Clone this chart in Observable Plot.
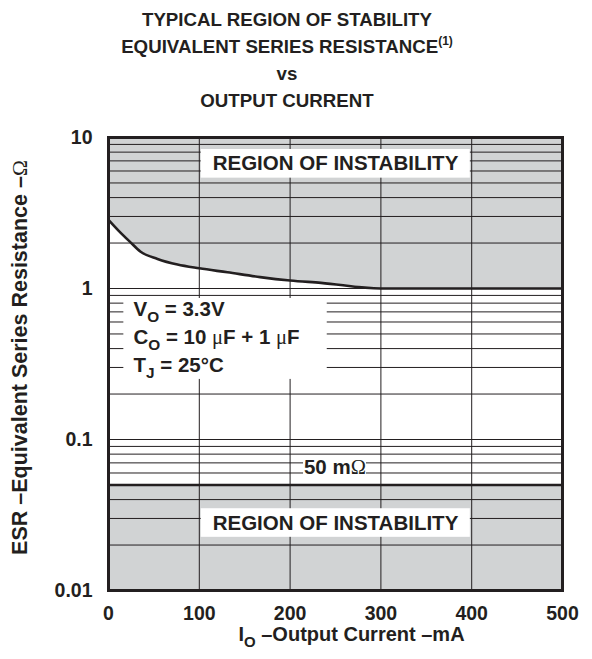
<!DOCTYPE html>
<html><head><meta charset="utf-8">
<script src="https://cdn.jsdelivr.net/npm/d3@7"></script>
<script src="https://cdn.jsdelivr.net/npm/@observablehq/plot@0.6"></script>
<style>
body{margin:0;background:#fff;font-family:"Liberation Sans",Arial,sans-serif;color:#231f20;}
#title{width:574px;height:120px;box-sizing:border-box;padding-top:6px;text-align:center;font-weight:bold;font-size:18.7px;line-height:27px;}
#title sup{font-size:12px;line-height:0;vertical-align:0;position:relative;top:-8px;}
#chart svg{display:block;}
</style></head><body>
<div id="title">TYPICAL REGION OF STABILITY<br>EQUIVALENT SERIES RESISTANCE<sup>(1)</sup><br>vs<br>OUTPUT CURRENT</div>
<div id="chart"></div>
<script>
// Upper stability boundary (minimum ESR, Ω) vs output current (mA)
const currentMa = [0, 11, 24, 35, 54, 76, 100, 131, 167, 200, 234, 300, 400, 500];
const esrUpperOhm = [2.85, 2.42, 2.03, 1.76, 1.57, 1.44, 1.36, 1.28, 1.19, 1.13, 1.09, 1.0, 1.0, 1.0];
// Lower stability boundary
const lowerRangeMa = [0, 500];
const esrLowerOhm = [0.05];
const esrFloorOhm = 0.01;
const esrCeilOhm = 10;
// Axes
const xTicks = [0, 100, 200, 300, 400, 500];
const xGrid = [100, 200, 300, 400];
const yTicks = [0.01, 0.1, 1, 10];
const yTickLabels = ["0.01", "0.1", "1", "10"];
const yGrid = [0.02, 0.03, 0.04, 0.05, 0.06, 0.07, 0.08, 0.09, 0.1,
               0.2, 0.3, 0.4, 0.5, 0.6, 0.7, 0.8, 0.9, 1,
               2, 3, 4, 5, 6, 7, 8, 9];
// Texts
const regionLabel = ["REGION OF INSTABILITY"];
const conditionLines = ["V_O = 3.3V", "C_O = 10 μF + 1 μF", "T_J = 25°C"];
const conditionY = [0.726, 0.474, 0.309];
const lowerLabel = ["50 mΩ"];
const xLabel = ["I_O –Output Current –mA"];
const yLabel = ["ESR –Equivalent Series Resistance –Ω"];

const ink = "#231f20";
const shade = "#d1d3d4";
const curve = currentMa.map((x, i) => ({x, y: esrUpperOhm[i]}));

const chart = Plot.plot({
  width: 592, height: 539,
  marginTop: 17, marginBottom: 69, marginLeft: 108, marginRight: 30,
  style: {fontFamily: "Liberation Sans, Arial, sans-serif", fontWeight: "bold", fontSize: "19.5px", color: ink, background: "white", overflow: "visible"},
  x: {domain: [0, 500], ticks: xTicks, tickSize: 0, tickPadding: 16, label: null},
  y: {type: "log", domain: [esrFloorOhm, esrCeilOhm], ticks: yTicks,
      tickFormat: d => yTickLabels[yTicks.indexOf(d)], tickSize: 0, tickPadding: 16, label: null},
  marks: [
    Plot.areaY(curve, {x: "x", y1: "y", y2: esrCeilOhm, fill: shade}),
    Plot.areaY(lowerRangeMa, {x: d => d, y1: esrFloorOhm, y2: esrLowerOhm[0], fill: shade}),
    Plot.ruleX(xGrid, {stroke: ink, strokeWidth: 1}),
    Plot.ruleY(yGrid, {stroke: ink, strokeWidth: 1}),
    Plot.line(curve, {x: "x", y: "y", stroke: ink, strokeWidth: 2.6, curve: "monotone-x"}),
    Plot.ruleY(esrLowerOhm, {stroke: ink, strokeWidth: 2.6}),
    // white label backgrounds
    Plot.rect([0], {x1: 102.1, x2: 398.5, y1: 5.38, y2: 8.33, fill: "white"}),
    Plot.rect([0], {x1: 102.1, x2: 398.5, y1: 0.0225, y2: 0.0348, fill: "white"}),
    Plot.rect([0], {x1: 16.9, x2: 240.9, y1: 0.25, y2: 0.859, fill: "white"}),
    Plot.rect([0], {x1: 214.8, x2: 284.1, y1: 0.0552, y2: 0.0772, fill: "white"}),
    Plot.text(regionLabel, {x: 250, y: 6.69, text: d => d, fontSize: 20.5, fill: ink}),
    Plot.text(regionLabel, {x: 250, y: 0.028, text: d => d, fontSize: 20.5, fill: ink}),
    Plot.text(conditionLines, {x: 27.5, y: (d, i) => conditionY[i], text: d => d, textAnchor: "start", fontSize: 20.5, fill: ink}),
    Plot.text(lowerLabel, {x: 249.4, y: 0.0653, text: d => d, fontSize: 20.5, fill: ink}),
    Plot.text(xLabel, {frameAnchor: "bottom", text: d => d, lineAnchor: "middle", dy: 44, dx: 16, fontSize: 20, fill: ink}),
    Plot.text(yLabel, {frameAnchor: "left", text: d => d, textAnchor: "middle", lineAnchor: "middle", rotate: -90, dx: -88, dy: -6.5, fontSize: 21.5, fill: ink}),
    Plot.frame({stroke: ink, strokeWidth: 3})
  ]
});
document.getElementById("chart").appendChild(chart);

// subscripts and symbol glyphs as tspans (text stays real text)
const NS = "http://www.w3.org/2000/svg";
chart.querySelectorAll("text").forEach(t => {
  if (t.querySelector("tspan")) return;
  const s = t.textContent;
  if (!/[_Ωμ]/.test(s)) return;
  const fs = parseFloat(getComputedStyle(t).fontSize) || 20;
  t.textContent = "";
  const tokens = s.split(/(_\w|[Ωμ])/).filter(x => x);
  let pendingUp = 0;
  tokens.forEach(tok => {
    const ts = document.createElementNS(NS, "tspan");
    if (tok.startsWith("_")) {
      ts.textContent = tok.slice(1);
      ts.setAttribute("font-size", (fs * 0.75) + "px");
      ts.setAttribute("dy", fs * 0.3);
      pendingUp = fs * 0.3;
    } else {
      ts.textContent = tok;
      if (pendingUp) { ts.setAttribute("dy", -pendingUp); pendingUp = 0; }
      if (tok === "Ω" || tok === "μ") {
        ts.setAttribute("font-family", "Liberation Serif, serif");
        ts.setAttribute("font-weight", "normal");
      }
    }
    t.appendChild(ts);
  });
});
</script>
</body></html>
